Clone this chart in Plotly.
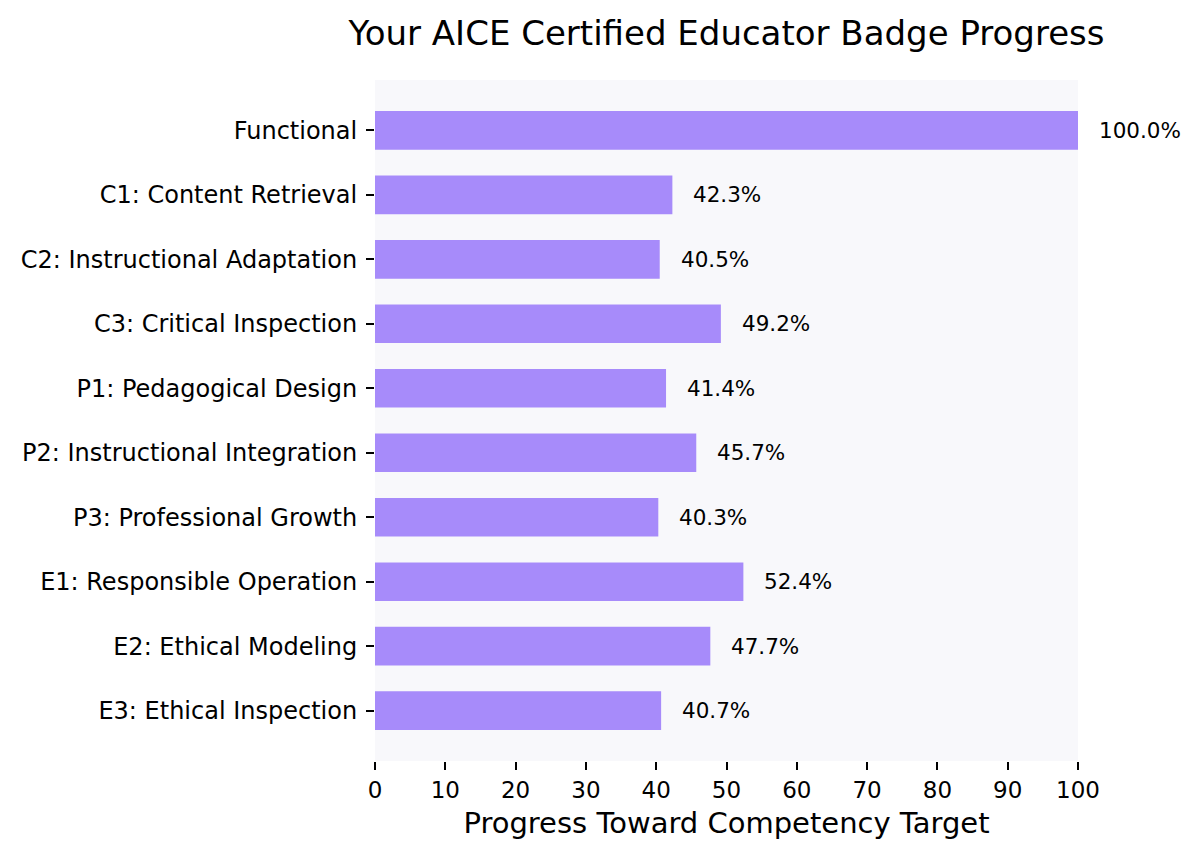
import plotly.graph_objects as go

categories = [
    "Functional",
    "C1: Content Retrieval",
    "C2: Instructional Adaptation",
    "C3: Critical Inspection",
    "P1: Pedagogical Design",
    "P2: Instructional Integration",
    "P3: Professional Growth",
    "E1: Responsible Operation",
    "E2: Ethical Modeling",
    "E3: Ethical Inspection",
]
progress = [100.0, 42.3, 40.5, 49.2, 41.4, 45.7, 40.3, 52.4, 47.7, 40.7]
x_ticks = [0, 10, 20, 30, 40, 50, 60, 70, 80, 90, 100]

BAR_COLOR = "#a78bfa"
FONT = "DejaVu Sans"

W, H = 1192, 849
L, R, T, B = 367, 1070, 72, 753

fig = go.Figure()
fig.add_trace(go.Bar(
    x=progress,
    y=categories,
    orientation="h",
    width=0.6,
    marker=dict(color=BAR_COLOR, line=dict(width=0)),
    hoverinfo="skip",
))

for cat, val in zip(categories, progress):
    fig.add_annotation(
        x=val, y=cat, xref="x", yref="y",
        text=f"{val:.1f}%",
        showarrow=False, xanchor="left", yanchor="middle",
        xshift=19,
        font=dict(family=FONT, size=21.5, color="#000000"),
    )

fig.update_layout(
    width=W, height=H,
    paper_bgcolor="white",
    plot_bgcolor="#f8f8fb",
    showlegend=False,
    margin=dict(l=L, r=W - R, t=T, b=H - B, pad=0),
    title=dict(
        text="Your AICE Certified Educator Badge Progress",
        x=(L + R) / 2 / W, xanchor="center",
        y=1 - 25 / H, yanchor="middle",
        font=dict(family=FONT, size=34, color="#000000"),
    ),
    font=dict(family=FONT, color="#000000"),
)

fig.update_xaxes(
    range=[0, 100],
    tickvals=x_ticks,
    ticktext=[str(v) for v in x_ticks],
    ticks="outside", ticklen=8, tickwidth=1.5, tickcolor="#000000",
    showgrid=False, zeroline=False, showline=False,
    tickfont=dict(family=FONT, size=23, color="#000000"),
    title=dict(text="Progress Toward Competency Target",
               font=dict(family=FONT, size=29, color="#000000"), standoff=11),
)
fig.update_yaxes(
    categoryorder="array", categoryarray=categories,
    range=[len(categories) - 1 + 0.78, -0.78],
    ticks="outside", ticklen=8, tickwidth=1.5, tickcolor="#000000",
    showgrid=False, zeroline=False, showline=False,
    tickfont=dict(family=FONT, size=24, color="#000000"),
    ticklabelstandoff=4,
)

fig.write_html("out.html")
